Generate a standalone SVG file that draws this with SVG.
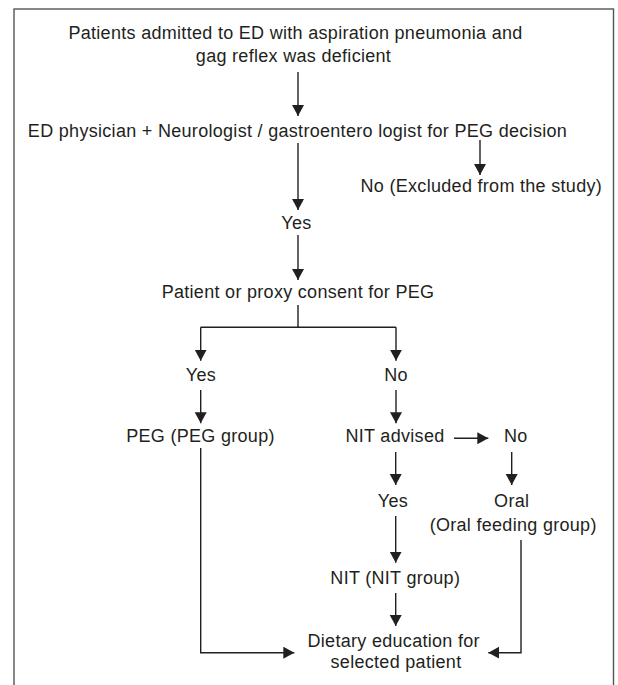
<svg xmlns="http://www.w3.org/2000/svg" width="618" height="685" viewBox="0 0 618 685">
  <style>
    text { font-family: "Liberation Sans", Arial, Helvetica, sans-serif; font-size: 18px; letter-spacing: 0.3px; fill: #231f20; text-anchor: middle; }
    .conn { fill: none; stroke: #231f20; stroke-width: 1.4; marker-end: url(#arrow); }
    .plain { fill: none; stroke: #231f20; stroke-width: 1.4; }
  </style>
  <defs>
    <marker id="arrow" markerUnits="userSpaceOnUse" markerWidth="13" markerHeight="13" refX="11" refY="6" orient="auto">
      <path d="M0,0 L11,6 L0,12 z" fill="#231f20"/>
    </marker>
  </defs>
  <rect x="14" y="9" width="599.5" height="700" fill="#ffffff" stroke="#555555" stroke-width="1.4"/>

  <g id="connectors">
    <path class="conn" d="M298,72 V116"/>
    <path class="conn" d="M480,140 V175"/>
    <path class="conn" d="M298,143 V210"/>
    <path class="conn" d="M298,235 V280"/>
    <path class="plain" d="M298,305 V327.3 M200.7,327.3 H396"/>
    <path class="conn" d="M200.7,327.3 V360.7"/>
    <path class="conn" d="M396,327.3 V360.7"/>
    <path class="conn" d="M200.7,390 V423.3"/>
    <path class="conn" d="M396,390 V423.3"/>
    <path class="conn" d="M454,438.3 H488.3"/>
    <path class="conn" d="M395.7,452 V485"/>
    <path class="conn" d="M511.7,452 V485"/>
    <path class="conn" d="M395.7,516 V562.7"/>
    <path class="conn" d="M395.7,593 V626"/>
    <path class="conn" d="M200.7,448 V652.7 H294.3"/>
    <path class="conn" d="M521,540 V652.7 H488.3"/>
  </g>

  <g id="n-admitted">
    <text x="295.5" y="38.5">Patients admitted to ED with aspiration pneumonia and</text>
    <text x="293.5" y="61.5">gag reflex was deficient</text>
  </g>
  <g id="n-decision"><text x="297.5" y="136.5">ED physician + Neurologist / gastroentero logist for PEG decision</text></g>
  <g id="n-excluded"><text x="481.3" y="191.5">No (Excluded from the study)</text></g>
  <g id="n-yes1"><text x="296.5" y="229">Yes</text></g>
  <g id="n-consent"><text x="298" y="298.3">Patient or proxy consent for PEG</text></g>
  <g id="n-yes2"><text x="201" y="380.7">Yes</text></g>
  <g id="n-no2"><text x="396" y="380.7">No</text></g>
  <g id="n-peg"><text x="200.5" y="441.7">PEG (PEG group)</text></g>
  <g id="n-nit-advised"><text x="395" y="442.3">NIT advised</text></g>
  <g id="n-no3"><text x="515.7" y="442">No</text></g>
  <g id="n-yes3"><text x="393" y="507.3">Yes</text></g>
  <g id="n-oral">
    <text x="511.7" y="507.3">Oral</text>
    <text x="513.2" y="531">(Oral feeding group)</text>
  </g>
  <g id="n-nit"><text x="395.3" y="584">NIT (NIT group)</text></g>
  <g id="n-dietary">
    <text x="393.7" y="646.7">Dietary education for</text>
    <text x="396" y="668.3">selected patient</text>
  </g>
</svg>
